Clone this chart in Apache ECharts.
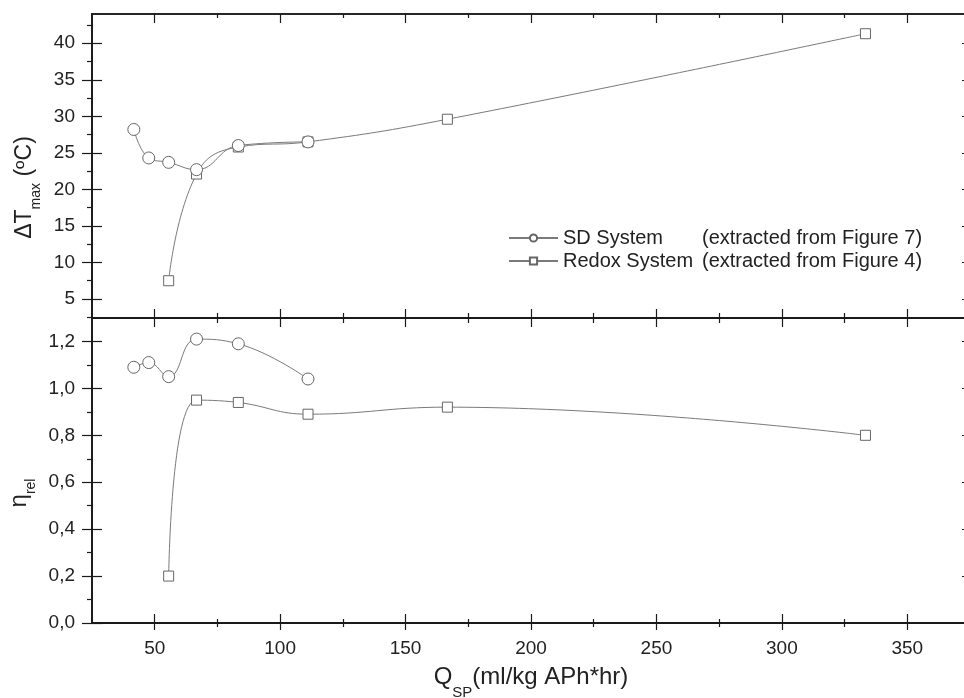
<!DOCTYPE html>
<html>
<head>
<meta charset="utf-8">
<style>
  html, body { margin: 0; padding: 0; background: #fff; }
  #chart { width: 964px; height: 698px; }
</style>
<script src="https://cdn.jsdelivr.net/npm/echarts@6/dist/echarts.min.js"></script>
</head>
<body>
<div id="chart"></div>
<script>
// values
const sdQ = [41.67, 47.62, 55.56, 66.67, 83.33, 111.11];
const sdDeltaT = [28.2, 24.3, 23.7, 22.7, 26.0, 26.5];
const sdEta = [1.09, 1.11, 1.05, 1.21, 1.19, 1.04];

const redoxQ = [55.56, 66.67, 83.33, 111.11, 166.67, 333.33];
const redoxDeltaT = [7.5, 22.1, 25.8, 26.5, 29.6, 41.3];
const redoxEta = [0.20, 0.95, 0.94, 0.89, 0.92, 0.80];

const seriesNames = ['SD System', 'Redox System'];
const seriesNotes = ['(extracted from Figure 7)', '(extracted from Figure 4)'];

// ticks
const xMajor = [50, 100, 150, 200, 250, 300, 350];
const xMinor = [75, 125, 175, 225, 275, 325];
const dtMajor = [5, 10, 15, 20, 25, 30, 35, 40];
const dtMinor = [2.5, 7.5, 12.5, 17.5, 22.5, 27.5, 32.5, 37.5, 42.5];
const etaMajor = [0, 0.2, 0.4, 0.6, 0.8, 1.0, 1.2];
const etaMinor = [0.1, 0.3, 0.5, 0.7, 0.9, 1.1];

const FONT = 'Liberation Sans, Arial, sans-serif';
const INK = '#1a1a1a';
const GRAY = '#666';

const zip = (xs, ys) => xs.map((x, i) => [x, ys[i]]);

function axis(kind, grid, pos, ticks, len, inside, extra) {
  return Object.assign({
    type: 'value',
    gridIndex: grid,
    position: pos,
    min: kind === 'x' ? 25 : (grid === 0 ? 2.4 : 0),
    max: kind === 'x' ? 375 : (grid === 0 ? 44 : 1.3),
    axisLine: { show: true, onZero: false, lineStyle: { color: INK, width: 1.5 } },
    axisTick: { show: true, inside: inside, length: len, customValues: ticks,
                lineStyle: { color: INK, width: 1.2 } },
    axisLabel: { show: false },
    splitLine: { show: false },
    minorTick: { show: false }
  }, extra || {});
}

function label(ticks, margin, fmt) {
  return { axisLabel: { show: true, customValues: ticks, margin: margin, fontSize: 19,
                        fontFamily: FONT, color: '#222', formatter: fmt } };
}

const xAxes = [
  axis('x', 0, 'bottom', xMajor, 9, true),
  axis('x', 0, 'bottom', xMinor, 5, true),
  axis('x', 0, 'top', xMajor, 9, true),
  axis('x', 0, 'top', xMinor, 4, true),
  axis('x', 1, 'bottom', xMajor, 7, false, Object.assign(label(xMajor, 16, v => String(v)), {
    name: '{m|Q}{s|SP}{m|(ml/kg APh*hr)}',
    nameLocation: 'middle',
    nameGap: 32,
    nameTextStyle: {
      color: '#222',
      rich: {
        m: { fontSize: 24, fontFamily: FONT, color: '#222' },
        s: { fontSize: 15, fontFamily: FONT, color: '#222', padding: [30, 0, 0, 0] }
      }
    }
  })),
  axis('x', 1, 'bottom', xMajor, 9, true),
  axis('x', 1, 'bottom', xMinor, 4, false),
  axis('x', 1, 'bottom', xMinor, 4, true),
  axis('x', 1, 'top', xMajor, 9, true),
  axis('x', 1, 'top', xMinor, 5, true)
];

const yAxes = [
  axis('y', 0, 'left', dtMajor, 10, false, Object.assign(label(dtMajor, 17, v => String(v)), {
    name: '{m|ΔT}{s|max}{m| (ºC)}',
    nameLocation: 'middle',
    nameGap: 42,
    nameTextStyle: {
      color: '#222',
      padding: [0, 43, 0, 0],
      rich: {
        m: { fontSize: 23, fontFamily: FONT, color: '#222' },
        s: { fontSize: 14, fontFamily: FONT, color: '#222', padding: [22, 0, 0, 0] }
      }
    }
  })),
  axis('y', 0, 'left', dtMajor, 10, true),
  axis('y', 0, 'left', dtMinor, 5, false),
  axis('y', 0, 'right', dtMajor, 8, true),
  axis('y', 0, 'right', dtMinor, 4, true),
  axis('y', 1, 'left', etaMajor, 10, false, Object.assign(label(etaMajor, 17, v => v.toFixed(1).replace('.', ',')), {
    name: '{m|η}{s|rel}',
    nameLocation: 'middle',
    nameGap: 42,
    nameTextStyle: {
      color: '#222',
      padding: [0, 45, 0, 0],
      rich: {
        m: { fontSize: 24, fontFamily: FONT, color: '#222' },
        s: { fontSize: 14, fontFamily: FONT, color: '#222', padding: [22, 0, 0, 0] }
      }
    }
  })),
  axis('y', 1, 'left', etaMajor, 10, true),
  axis('y', 1, 'left', etaMinor, 5, false),
  axis('y', 1, 'right', etaMajor, 8, true),
  axis('y', 1, 'right', etaMinor, 4, true)
];

// hollow markers: white fill, thin gray outline
function line(name, data, xi, yi, symbol, size) {
  return {
    name: name,
    type: 'line',
    xAxisIndex: xi,
    yAxisIndex: yi,
    data: data,
    smooth: 0.45,
    symbol: symbol,
    symbolSize: size,
    showAllSymbol: true,
    lineStyle: { color: '#7a7a7a', width: 1 },
    itemStyle: { color: '#fff', borderColor: GRAY, borderWidth: 1 },
    emphasis: { disabled: true },
    animation: false
  };
}

const chart = echarts.init(document.getElementById('chart'), null, { renderer: 'canvas' });

chart.setOption({
  backgroundColor: '#fff',
  animation: false,
  grid: [
    { left: 92, right: -6, top: 14, height: 304, outerBoundsMode: 'none' },
    { left: 92, right: -6, top: 318, height: 305, outerBoundsMode: 'none' }
  ],
  xAxis: xAxes,
  yAxis: yAxes,
  legend: {
    data: seriesNames,
    orient: 'vertical',
    left: 508,
    top: 228,
    padding: 0,
    itemGap: 3,
    itemWidth: 49,
    itemHeight: 9,
    selectedMode: false,
    formatter: name => '{a|' + name + '}{b|' + seriesNotes[seriesNames.indexOf(name)] + '}',
    textStyle: {
      fontSize: 20,
      fontFamily: FONT,
      color: '#222',
      rich: {
        a: { fontSize: 20, fontFamily: FONT, color: '#222', width: 139 },
        b: { fontSize: 20, fontFamily: FONT, color: '#222' }
      }
    }
  },
  series: [
    line(seriesNames[1], zip(redoxQ, redoxDeltaT), 0, 0, 'rect', 10),
    line(seriesNames[0], zip(sdQ, sdDeltaT), 0, 0, 'circle', 12),
    line(seriesNames[1], zip(redoxQ, redoxEta), 4, 5, 'rect', 10),
    line(seriesNames[0], zip(sdQ, sdEta), 4, 5, 'circle', 12)
  ]
});
</script>
</body>
</html>
